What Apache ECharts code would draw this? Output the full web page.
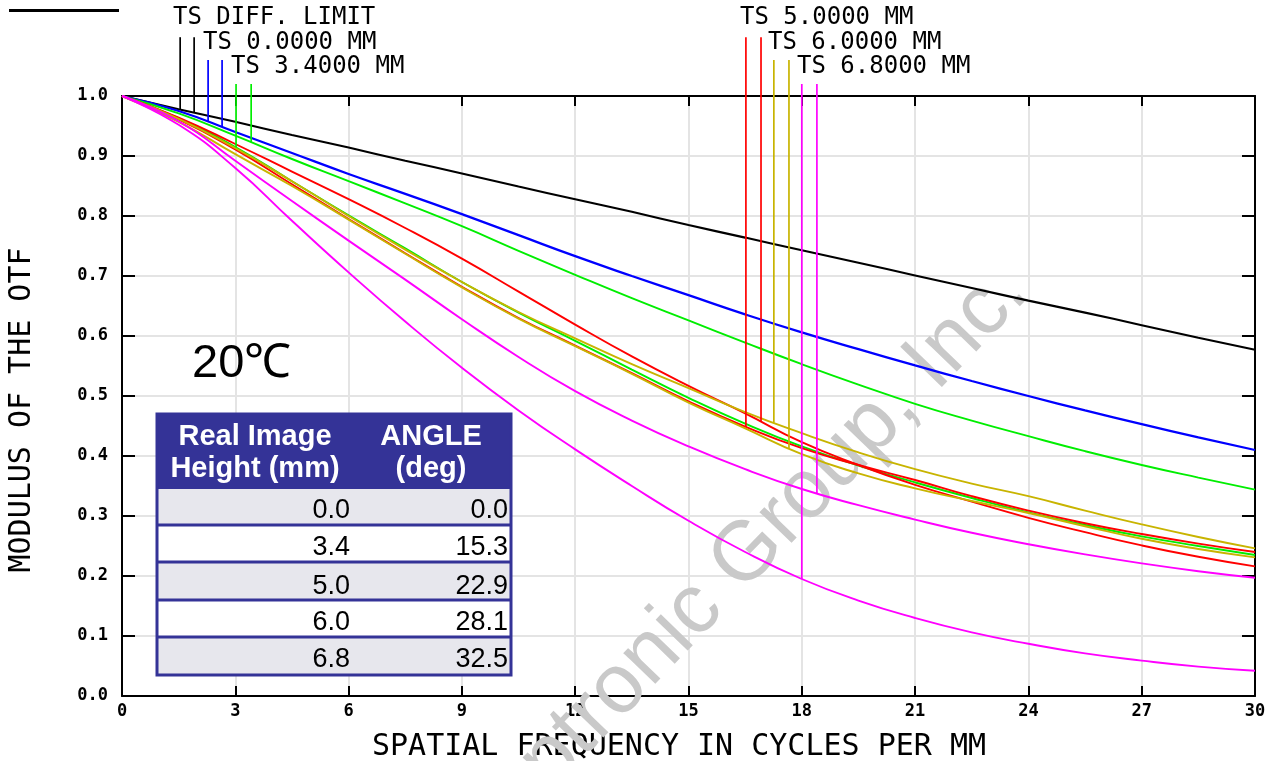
<!DOCTYPE html>
<html><head><meta charset="utf-8">
<script src="https://cdn.jsdelivr.net/npm/echarts@6/dist/echarts.min.js"></script>
<style>html,body{margin:0;padding:0;background:#fff}#c{width:1275px;height:761px}</style>
</head><body><div id="c"></div>
<script>
// spatial frequency (cycles/mm)
const freq = [0,1.5,3,4.5,6,7.5,9,10.5,12,13.5,15,16.5,18,19.5,21,22.5,24,25.5,27,28.5,30];
// MTF curves
const diffLimit = [1.000,0.978,0.957,0.935,0.914,0.892,0.871,0.849,0.828,0.807,0.785,0.764,0.743,0.722,0.701,0.680,0.659,0.639,0.618,0.597,0.577];
const ts00  = [1.000,0.975,0.940,0.905,0.870,0.837,0.803,0.768,0.733,0.700,0.668,0.636,0.606,0.578,0.551,0.525,0.500,0.476,0.453,0.431,0.410];
const ts34a = [1.000,0.971,0.934,0.895,0.858,0.821,0.783,0.742,0.702,0.663,0.626,0.589,0.553,0.519,0.487,0.459,0.433,0.408,0.385,0.364,0.344];
const ts34b = [1.000,0.963,0.915,0.858,0.801,0.746,0.690,0.639,0.592,0.544,0.497,0.454,0.416,0.384,0.356,0.330,0.306,0.285,0.266,0.250,0.235];
const ts50a = [1.000,0.964,0.920,0.874,0.828,0.780,0.729,0.674,0.619,0.566,0.517,0.471,0.423,0.385,0.352,0.324,0.297,0.273,0.251,0.232,0.216];
const ts50b = [1.000,0.961,0.911,0.853,0.795,0.738,0.682,0.630,0.584,0.538,0.491,0.449,0.413,0.385,0.360,0.333,0.309,0.288,0.270,0.254,0.240];
const ts60a = [1.000,0.962,0.913,0.858,0.800,0.744,0.690,0.640,0.596,0.553,0.513,0.473,0.438,0.406,0.378,0.354,0.333,0.309,0.286,0.265,0.246];
const ts60b = [1.000,0.957,0.903,0.850,0.794,0.737,0.681,0.629,0.583,0.537,0.489,0.446,0.403,0.371,0.346,0.325,0.305,0.283,0.262,0.245,0.231];
const ts68a = [1.000,0.958,0.892,0.825,0.759,0.694,0.628,0.565,0.508,0.459,0.416,0.378,0.345,0.318,0.294,0.272,0.253,0.236,0.221,0.208,0.197];
const ts68b = [1.000,0.952,0.880,0.792,0.706,0.624,0.547,0.476,0.411,0.350,0.292,0.240,0.195,0.159,0.130,0.106,0.087,0.071,0.059,0.049,0.042];
// legend marker lines (x position, top value, curve they end on)
const markerX   = [1.54,1.91,2.28,2.65,3.02,3.42,16.52,16.92,17.26,17.66,18.0,18.4];
const markerTop = [1.098,1.098,1.06,1.06,1.02,1.02,1.098,1.098,1.06,1.06,1.02,1.02];
const markerCurve = ['diff','diff','ts00','ts00','ts34b','ts34a','ts50b','ts50a','ts60a','ts60b','ts68b','ts68a'];
// legend labels
const legendLabels = ['TS DIFF. LIMIT','TS 0.0000 MM','TS 3.4000 MM','TS 5.0000 MM','TS 6.0000 MM','TS 6.8000 MM'];
// table
const tableHead = [['Real Image','Height (mm)'],['ANGLE','(deg)']];
const imageHeight = ['0.0','3.4','5.0','6.0','6.8'];
const fieldAngle = ['0.0','15.3','22.9','28.1','32.5'];
const xTicks = [0,30,3];
const yTicks = [0,1,0.1];

const curves = {diff:diffLimit, ts00, ts34a, ts34b, ts50a, ts50b, ts60a, ts60b, ts68a, ts68b};
const colors = {diff:'#000000', ts00:'#0000ff', ts34a:'#00ee00', ts34b:'#00ee00', ts50a:'#ff0000', ts50b:'#ff0000', ts60a:'#c8b400', ts60b:'#c8b400', ts68a:'#ff00ff', ts68b:'#ff00ff'};
const widths = {diff:2.1, ts00:2.3};

function interp(arr, x){
  for(let i=0;i<freq.length-1;i++){
    if(x>=freq[i] && x<=freq[i+1]){
      const t=(x-freq[i])/(freq[i+1]-freq[i]);
      return arr[i]+t*(arr[i+1]-arr[i]);
    }
  }
  return arr[arr.length-1];
}

const series = [];
Object.keys(curves).forEach(k=>{
  series.push({type:'line', name:k, data:freq.map((f,i)=>[f,curves[k][i]]), smooth:0.5, showSymbol:false, symbol:'none',
    lineStyle:{color:colors[k], width:widths[k]||1.9}, z:3});
});
markerX.forEach((mx,i)=>{
  const k=markerCurve[i];
  series.push({type:'line', data:[[mx,markerTop[i]],[mx,interp(curves[k],mx)]], clip:false, showSymbol:false, symbol:'none',
    lineStyle:{color:colors[k], width:1.7}, z:4});
});

const mono='"DejaVu Sans Mono", monospace';
const axisLineStyle={color:'#000',width:2};
const labelPos=[[173,18],[203,43],[231,67],[740,18],[768,43],[797,67]];
const graphics=[];
// title (cut off at top)
graphics.push({type:'text', x:8, y:-13, style:{text:'MTF', font:'bold 48px "Liberation Sans"', fill:'#000', textAlign:'left', textVerticalAlign:'middle'}});
graphics.push({type:'rect', shape:{x:9,y:9,width:110,height:3}, style:{fill:'#000'}});
legendLabels.forEach((t,i)=>{
  graphics.push({type:'text', x:labelPos[i][0], y:labelPos[i][1], style:{text:t, font:'24px '+mono, fill:'#000', textAlign:'left', textVerticalAlign:'middle'}});
});
// axis names
graphics.push({type:'text', x:679, y:747, style:{text:'SPATIAL FREQUENCY IN CYCLES PER MM', font:'30px '+mono, fill:'#000', textAlign:'center', textVerticalAlign:'middle'}});
graphics.push({type:'text', x:22, y:410, rotation:Math.PI/2, style:{text:'MODULUS OF THE OTF', font:'30px '+mono, fill:'#000', textAlign:'center', textVerticalAlign:'middle'}});
// watermark
const th=46*Math.PI/180;
graphics.push({type:'text', x:1014, y:279, rotation:th, z:1, style:{text:'Optronic Group, Inc.', font:'84px "Liberation Sans"', fill:'#c9c9c9', textAlign:'right', textVerticalAlign:'middle'}});
// temperature
graphics.push({type:'text', x:192, y:364, style:{text:'20℃', font:'47px "Liberation Sans"', fill:'#000', textAlign:'left', textVerticalAlign:'middle'}, z:20});
// table
const tb={l:157,t:414,r:511,b:675,h:489};
const rowB=[489,525,562,600,637,675];
const rowTextY=[511,548,587,623,660];
const navy='#343397';
graphics.push({type:'rect', shape:{x:tb.l,y:tb.t,width:tb.r-tb.l,height:tb.h-tb.t}, style:{fill:navy}, z:20});
for(let i=0;i<5;i++){
  graphics.push({type:'rect', shape:{x:tb.l,y:rowB[i],width:tb.r-tb.l,height:rowB[i+1]-rowB[i]}, style:{fill: i%2===0?'#e7e7ed':'#ffffff'}, z:20});
  graphics.push({type:'text', x:350, y:rowTextY[i], style:{text:imageHeight[i], font:'27px "Liberation Sans"', fill:'#000', textAlign:'right', textVerticalAlign:'middle'}, z:22});
  graphics.push({type:'text', x:508, y:rowTextY[i], style:{text:fieldAngle[i], font:'27px "Liberation Sans"', fill:'#000', textAlign:'right', textVerticalAlign:'middle'}, z:22});
}
for(let i=1;i<5;i++){
  graphics.push({type:'line', shape:{x1:tb.l,y1:rowB[i],x2:tb.r,y2:rowB[i]}, style:{stroke:navy,lineWidth:3}, z:21});
}
graphics.push({type:'rect', shape:{x:tb.l,y:tb.t,width:tb.r-tb.l,height:tb.b-tb.t}, style:{fill:null,stroke:navy,lineWidth:3}, z:23});
const headX=[255,431];
tableHead.forEach((lines,c)=>{
  graphics.push({type:'text', x:headX[c], y:437, style:{text:lines[0], font:'bold 29px "Liberation Sans"', fill:'#fff', textAlign:'center', textVerticalAlign:'middle'}, z:22});
  graphics.push({type:'text', x:headX[c], y:469, style:{text:lines[1], font:'bold 29px "Liberation Sans"', fill:'#fff', textAlign:'center', textVerticalAlign:'middle'}, z:22});
});

const chart = echarts.init(document.getElementById('c'), null, {renderer:'canvas'});
const xBase = {type:'value', min:xTicks[0], max:xTicks[1], interval:xTicks[2]};
const yBase = {type:'value', min:yTicks[0], max:yTicks[1], interval:yTicks[2]};
chart.setOption({
  animation:false,
  backgroundColor:'#fff',
  grid:{left:122, right:20, top:96, bottom:65, containLabel:false},
  xAxis:[
    Object.assign({}, xBase, {position:'bottom', axisLine:{show:true,lineStyle:axisLineStyle}, axisTick:{show:true,inside:true,length:10,lineStyle:axisLineStyle},
      axisLabel:{show:true, margin:7, color:'#000', fontFamily:mono, fontSize:17, fontWeight:'bold'},
      splitLine:{show:true, lineStyle:{color:'#e4e4e4', width:2}}}),
    Object.assign({}, xBase, {position:'top', axisLine:{show:true,onZero:false,lineStyle:axisLineStyle}, axisTick:{show:true,inside:true,length:10,lineStyle:axisLineStyle},
      axisLabel:{show:false}, splitLine:{show:false}})
  ],
  yAxis:[
    Object.assign({}, yBase, {position:'left', axisLine:{show:true,onZero:false,lineStyle:axisLineStyle}, axisTick:{show:true,inside:true,length:13,lineStyle:axisLineStyle},
      axisLabel:{show:true, margin:14, color:'#000', fontFamily:mono, fontSize:17, fontWeight:'bold', formatter:v=>v.toFixed(1)},
      splitLine:{show:true, lineStyle:{color:'#e4e4e4', width:2}}}),
    Object.assign({}, yBase, {position:'right', axisLine:{show:true,onZero:false,lineStyle:axisLineStyle}, axisTick:{show:true,inside:true,length:13,lineStyle:axisLineStyle},
      axisLabel:{show:false}, splitLine:{show:false}})
  ],
  graphic: graphics,
  series: series
});
</script></body></html>
